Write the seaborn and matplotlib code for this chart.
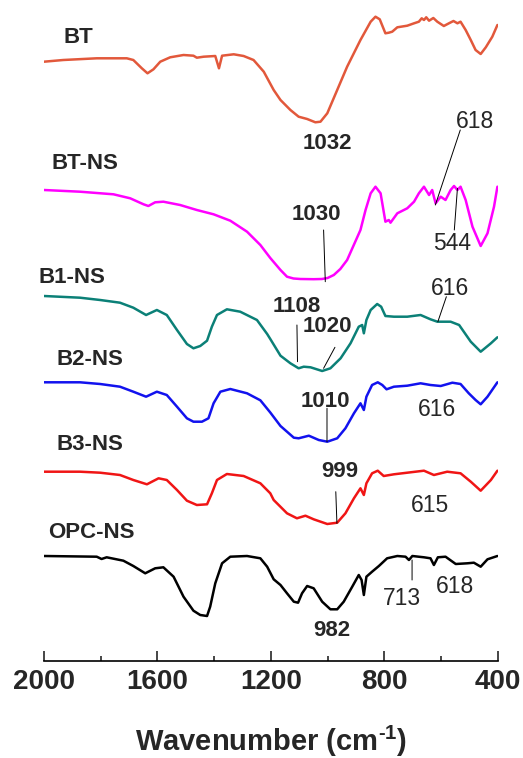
import pandas as pd
import seaborn as sns
import matplotlib.pyplot as plt
from matplotlib.ticker import MultipleLocator

# spectra: wavenumber (cm-1) and relative transmittance (arb. units, 0 at 2000 cm-1)
BT_WN = [2000, 1932, 1814, 1708, 1685, 1655, 1635, 1614, 1590, 1555, 1508, 1473, 1461, 1437, 1396,
         1383, 1372, 1331, 1296, 1261, 1225, 1190, 1166, 1131, 1102, 1072, 1043, 1025, 1001, 966,
         931, 884, 848, 831, 816, 796, 784, 772, 754, 719, 695, 678, 668, 660, 652, 642, 627, 613,
         590, 572, 556, 542, 531, 513, 495, 478, 460, 442, 419, 401]
BT_T = [0, 1.7, 3.4, 3.4, 1.7, -6.6, -11.6, -7.6, 0, 4.4, 6.7, 6, 4, 5, 5.7,
        -6.6, 6, 7.4, 5.7, 1.7, -10, -28.3, -38.3, -48.3, -55, -57.3, -60.6, -60, -51.6, -28.3,
        -5, 21.7, 40, 45, 42.4, 28.4, 29, 30, 34.4, 36, 38.4, 40, 43.4, 41.7, 44.4, 41, 43.7, 40,
        35.7, 38.4, 40.7, 38.4, 40, 31.7, 21.7, 11.7, 7.7, 14.4, 25, 36.7]

BTNS_WN = [2000, 1873, 1755, 1696, 1649, 1632, 1608, 1579, 1520, 1461, 1402, 1343, 1284, 1237,
           1202, 1166, 1143, 1120, 1096, 1049, 1020, 1000, 978, 955, 931, 884, 866, 848, 831, 813,
           796, 784, 778, 754, 719, 695, 678, 660, 642, 631, 619, 601, 584, 566, 554, 542, 531,
           513, 489, 460, 436, 413, 401]
BTNS_T = [0, -1.7, -4.3, -8.3, -14.3, -16, -12.3, -11.7, -15, -20, -24.3, -30.7, -41.7, -55,
          -68, -80, -86.7, -88.5, -89, -89.2, -89, -88, -85, -79, -70, -40, -20, -3.3, 3.3, -3.3,
          -31.7, -30, -32.7, -23.3, -18.3, -11.7, -3.3, 3.3, -5, 0, -13.3, -6.7, -10, 0, 4, 0,
          3.3, -10, -36.7, -56, -43.3, -16.7, 3.3]

B1_WN = [2000, 1873, 1802, 1732, 1685, 1640, 1602, 1567, 1531, 1496, 1473, 1449, 1425, 1408,
         1390, 1355, 1308, 1249, 1213, 1202, 1166, 1131, 1102, 1084, 1060, 1019, 990, 954, 919,
         890, 878, 872, 863, 848, 825, 811, 796, 766, 719, 672, 637, 613, 566, 536, 495, 460,
         424, 401]
B1_T = [0, -1.7, -4, -6.7, -11.7, -19, -14, -19, -34, -48, -52.3, -50, -44.7, -30.7,
        -19, -13.3, -15.7, -24, -38, -43, -59.7, -67.3, -72.3, -70.7, -71.3, -75, -72.3, -62.3,
        -47.3, -30.7, -29, -37.3, -24, -14, -8, -10.7, -20, -20.7, -20.7, -19, -23.3, -25.7,
        -25.7, -29, -45.7, -55.7, -47.3, -41.3]

B2_WN = [2000, 1873, 1802, 1732, 1685, 1640, 1602, 1567, 1531, 1496, 1473, 1443, 1420, 1402,
         1378, 1343, 1284, 1237, 1202, 1166, 1119, 1102, 1066, 1031, 1001, 966, 937, 907, 884,
         872, 863, 843, 823, 807, 792, 766, 719, 672, 637, 601, 560, 531, 502, 478, 460, 436, 401]
B2_T = [0, 0, -1.7, -4.4, -9.4, -14.4, -9.4, -12.7, -24.4, -36, -39.4, -39.4, -36, -21,
        -9.4, -6.7, -11, -18, -30.2, -43.7, -55.4, -56, -53.4, -57.7, -59.4, -56, -46, -31, -21,
        -27.7, -14.4, -2.7, 0, -2.7, -7, -4.4, -3.4, -1, -2.7, -3.7, -0.4, -1.7, -11, -17.7,
        -22, -14.4, 0]

B3_WN = [2000, 1873, 1802, 1732, 1685, 1637, 1596, 1567, 1531, 1496, 1461, 1425, 1408, 1390,
         1355, 1296, 1237, 1202, 1190, 1143, 1108, 1078, 1049, 1001, 966, 937, 907, 884, 872,
         863, 843, 823, 802, 766, 719, 660, 625, 578, 531, 495, 460, 424, 401]
B3_T = [0, 0, -1, -3.3, -8.3, -12.6, -6.6, -8.3, -18.3, -29, -33.3, -32.6, -21.6, -8.3,
        -2.3, -4.3, -11.6, -21.6, -28.3, -41.6, -46.6, -44, -47.6, -52.3, -51, -41.6, -26.6,
        -16.6, -23.3, -11.6, -1.6, 1, -4.3, -2.6, -1, 1, -3.3, 0, -1.6, -10, -19, -8.3, 1]

OPC_WN = [2000, 1814, 1797, 1779, 1720, 1685, 1643, 1608, 1579, 1543, 1508, 1473, 1449, 1425,
          1414, 1396, 1372, 1343, 1284, 1237, 1213, 1190, 1166, 1143, 1119, 1104, 1090, 1072,
          1049, 1019, 990, 966, 943, 913, 890, 880, 872, 863, 843, 819, 790, 754, 725, 713, 701,
          660, 637, 625, 611, 584, 548, 507, 484, 460, 436, 401]
OPC_T = [0, -0.7, -3, -1.3, -4.7, -10, -17.3, -12.3, -11.3, -20.7, -40.7, -54.7, -59, -60,
         -50.7, -27.3, -7.3, -0.7, 0, -2.3, -10.7, -23.3, -29, -37.3, -45.7, -46.7, -37.3, -30,
         -32.3, -45.7, -53.3, -53.3, -45.7, -30.7, -19, -24, -39, -20.7, -15.7, -10, -2.3, 0,
         -0.7, -4, 0, -1.3, -2.3, -9, -1.3, -0.7, -8, -7.3, -6.7, -10.7, -3.3, 0]

SAMPLES = ['BT', 'BT-NS', 'B1-NS', 'B2-NS', 'B3-NS', 'OPC-NS']
WAVENUMBERS = [BT_WN, BTNS_WN, B1_WN, B2_WN, B3_WN, OPC_WN]
TRANSMITTANCE = [BT_T, BTNS_T, B1_T, B2_T, B3_T, OPC_T]
OFFSETS = [696.3, 568, 462, 375.7, 286.3, 202]
COLORS = ['#E2583B', '#FF00FF', '#0B8077', '#1212EE', '#F01515', '#000000']

# sample names: (text, wavenumber, y)
SAMPLE_LABELS = [('BT', 1879, 720.7), ('BT-NS', 1855, 594.7), ('B1-NS', 1902, 480.7),
                 ('B2-NS', 1838, 398.7), ('B3-NS', 1838, 314), ('OPC-NS', 1832, 225.7)]
# peak labels: (text, wavenumber, y, bold)
PEAK_LABELS = [('1032', 1002, 614.7, True), ('1030', 1038, 543, True), ('618', 479, 636.3, False),
               ('544', 560, 515, False), ('1108', 1108, 451.3, True), ('1020', 1002, 432, True),
               ('616', 567, 469.7, False), ('1010', 1008, 356.3, True), ('616', 614, 348, False),
               ('999', 956, 286.3, True), ('615', 638, 253, False), ('982', 985, 128, True),
               ('713', 738, 159.7, False), ('618', 550, 171.3, False)]
# leader lines: (wn1, y1, wn2, y2)
LEADERS = [(1014, 528, 1008, 476.3), (532, 628, 620, 553), (542, 569.7, 553, 528),
           (1108, 433, 1106, 396.3), (974, 410.7, 1014, 389.7), (581, 461.3, 611, 436.3),
           (1002, 349.7, 1002, 316.3), (971, 266.3, 967, 234.7), (702, 198, 702, 178)]

rows = []
for name, wn, tr, off in zip(SAMPLES, WAVENUMBERS, TRANSMITTANCE, OFFSETS):
    for w, t in zip(wn, tr):
        rows.append({'sample': name, 'wavenumber': w, 'signal': t + off})
df = pd.DataFrame(rows)

sns.set_theme(style='white')
plt.rcParams['font.family'] = ['Liberation Sans', 'DejaVu Sans']
plt.rcParams['mathtext.fontset'] = 'custom'
plt.rcParams['mathtext.bf'] = 'Liberation Sans:bold'
plt.rcParams['mathtext.rm'] = 'Liberation Sans:bold'

fig = plt.figure(figsize=(5.23, 7.58), dpi=100)
ax = fig.add_axes([44 / 523, 97 / 758, 453.7 / 523, 661 / 758])

sns.lineplot(data=df, x='wavenumber', y='signal', hue='sample', hue_order=SAMPLES,
             palette=COLORS, estimator=None, sort=False, linewidth=1.8, legend=False, ax=ax)
for line in ax.get_lines():
    line.set_solid_joinstyle('round')

for text, w, y in SAMPLE_LABELS:
    ax.text(w, y, text, ha='center', va='center', fontsize=16, fontweight='bold')
for text, w, y, bold in PEAK_LABELS:
    ax.text(w, y, text, ha='center', va='center', fontsize=16 if bold else 16.5,
            fontweight='bold' if bold else 'normal')
for w1, y1, w2, y2 in LEADERS:
    ax.annotate('', xy=(w2, y2), xytext=(w1, y1),
                arrowprops=dict(arrowstyle='-', color='black', lw=0.7, shrinkA=0, shrinkB=0))

ax.set_xlim(2000, 400)
ax.set_ylim(97, 758)
ax.set_yticks([])
ax.set_ylabel('')
ax.xaxis.set_major_locator(MultipleLocator(400))
ax.xaxis.set_minor_locator(MultipleLocator(200))
ax.tick_params(axis='x', which='major', direction='in', length=7.5, width=1.2, pad=6,
               labelsize=20, bottom=True)
ax.tick_params(axis='x', which='minor', direction='in', length=3.5, width=1.2, bottom=True)
for lab in ax.get_xticklabels():
    lab.set_fontweight('bold')
for side in ['left', 'right', 'top']:
    ax.spines[side].set_visible(False)
ax.spines['bottom'].set_linewidth(1.2)
ax.spines['bottom'].set_color('black')
ax.set_xlabel('Wavenumber (cm$^{\\text{-1}}$)', fontsize=21, fontweight='bold')
ax.xaxis.set_label_coords(0.5, -0.095)

fig.savefig('out.png', dpi=100)
